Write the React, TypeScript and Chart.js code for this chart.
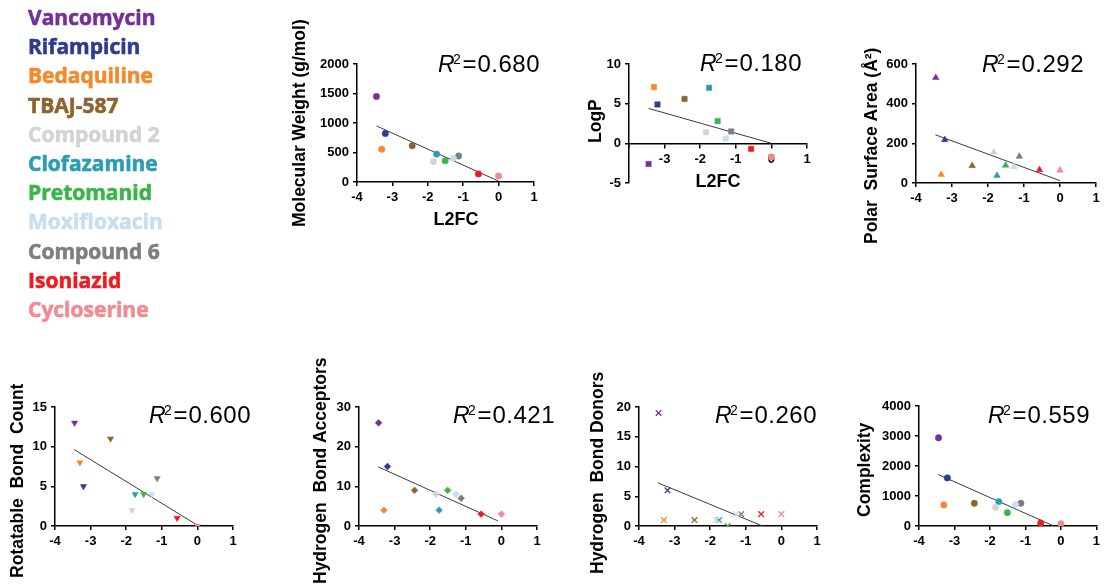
import React, { useEffect, useRef } from 'react';
import { Chart, registerables } from 'chart.js';

Chart.register(...registerables);

const W = 1104;
const H = 588;

// ---------- data ----------
const compounds = ['Vancomycin', 'Rifampicin', 'Bedaquiline', 'TBAJ-587', 'Compound 2', 'Clofazamine', 'Pretomanid', 'Moxifloxacin', 'Compound 6', 'Isoniazid', 'Cycloserine'];
const colors = ['#74309A', '#2E3B93', '#F6882A', '#8D6431', '#D3D3D3', '#2A9DB3', '#3AB54A', '#C7DDF1', '#7E7E7E', '#EC1C24', '#F28A8F'];
const l2fc = [-3.45, -3.2, -3.3, -2.44, -1.84, -1.75, -1.51, -1.28, -1.13, -0.57, 0.0];

const molecularWeight = [1449, 823, 555, 614, 345, 473, 359, 401, 440, 137, 102];
const logP = [-2.6, 4.9, 7.1, 5.6, 1.4, 7.0, 2.8, 0.6, 1.5, -0.7, -1.7];
const polarSurfaceArea = [531, 218, 42, 87, 155, 37, 89, 82, 134, 66, 64];
const rotatableBonds = [13, 5, 8, 11, 2, 4, 4, 4, 6, 1, 0];
const hbAcceptors = [26, 15, 4, 9, 8, 4, 9, 8, 7, 3, 3];
const hbDonors = [19, 6, 1, 1, 1, 1, 0, 2, 2, 2, 2];
const complexity = [2940, 1604, 702, 757, 624, 813, 445, 713, 757, 100, 78];

// regression line end points
const fitMwX = [-3.45, 0];
const fitMwY = [950, 15];
const fitLogPX = [-3.45, 0];
const fitLogPY = [4.4, 0];
const fitPsaX = [-3.46, 0];
const fitPsaY = [243, 12];
const fitRotX = [-3.46, 0];
const fitRotY = [9.63, 0.1];
const fitHbaX = [-3.46, -0.1];
const fitHbaY = [14.9, 1.3];
const fitHbdX = [-3.47, -0.53];
const fitHbdY = [7.26, 0];
const fitCxX = [-3.46, -0.2];
const fitCxY = [1717, 0];

const r2Values = ['0.680', '0.180', '0.292', '0.600', '0.421', '0.260', '0.559'];

// ---------- layout ----------
const SANS = '"Liberation Sans", Arial, Helvetica, sans-serif';
const YW = 50;
const XH = 40;

type Panel = {
  values: number[];
  fitX: number[];
  fitY: number[];
  r2: string;
  pointStyle: string;
  rotation?: number;
  radius: number;
  left: number; right: number; top: number; bottom: number;
  yMin: number; yMax: number; yStep: number;
  zeroAxis?: boolean;
  yTitle: string; yTitleX: number; yTitleBottom: number;
  xTitle?: { x: number; y: number };
  r2X: number; r2Y: number;
};

const panels: Panel[] = [
  { values: molecularWeight, fitX: fitMwX, fitY: fitMwY, r2: r2Values[0], pointStyle: 'circle', radius: 3.2,
    left: 357, right: 534, top: 64, bottom: 182, yMin: 0, yMax: 2000, yStep: 500,
    yTitle: 'Molecular Weight (g/mol)', yTitleX: 300, yTitleBottom: 227, xTitle: { x: 456, y: 225 }, r2X: 438, r2Y: 72 },
  { values: logP, fitX: fitLogPX, fitY: fitLogPY, r2: r2Values[1], pointStyle: 'rect', radius: 3.8,
    left: 629, right: 807, top: 64, bottom: 183, yMin: -5, yMax: 10, yStep: 5, zeroAxis: true,
    yTitle: 'LogP', yTitleX: 596, yTitleBottom: 143, xTitle: { x: 718, y: 187 }, r2X: 700, r2Y: 71 },
  { values: polarSurfaceArea, fitX: fitPsaX, fitY: fitPsaY, r2: r2Values[2], pointStyle: 'triangle', radius: 3.8,
    left: 916, right: 1096, top: 64, bottom: 183, yMin: 0, yMax: 600, yStep: 200,
    yTitle: 'Polar  Surface Area (Å²)', yTitleX: 872, yTitleBottom: 244, r2X: 982, r2Y: 72 },
  { values: rotatableBonds, fitX: fitRotX, fitY: fitRotY, r2: r2Values[3], pointStyle: 'triangle', rotation: 180, radius: 3.6,
    left: 55, right: 233, top: 407, bottom: 526, yMin: 0, yMax: 15, yStep: 5,
    yTitle: 'Rotatable  Bond  Count', yTitleX: 18, yTitleBottom: 578, r2X: 149, r2Y: 423 },
  { values: hbAcceptors, fitX: fitHbaX, fitY: fitHbaY, r2: r2Values[4], pointStyle: 'rectRot', radius: 3.4,
    left: 359, right: 537, top: 407, bottom: 526, yMin: 0, yMax: 30, yStep: 10,
    yTitle: 'Hydrogen  Bond Acceptors', yTitleX: 321, yTitleBottom: 584, r2X: 453, r2Y: 423 },
  { values: hbDonors, fitX: fitHbdX, fitY: fitHbdY, r2: r2Values[5], pointStyle: 'crossRot', radius: 4,
    left: 639, right: 817, top: 407, bottom: 526, yMin: 0, yMax: 20, yStep: 5,
    yTitle: 'Hydrogen  Bond Donors', yTitleX: 598, yTitleBottom: 574, r2X: 715, r2Y: 423 },
  { values: complexity, fitX: fitCxX, fitY: fitCxY, r2: r2Values[6], pointStyle: 'circle', radius: 3.2,
    left: 919, right: 1097, top: 406, bottom: 526, yMin: 0, yMax: 4000, yStep: 1000,
    yTitle: 'Complexity', yTitleX: 865, yTitleBottom: 517, r2X: 988, r2Y: 423 },
];

function drawR2(ctx: CanvasRenderingContext2D, x: number, y: number, value: string) {
  ctx.fillStyle = '#000';
  ctx.textAlign = 'left';
  ctx.textBaseline = 'alphabetic';
  ctx.font = `italic 23px ${SANS}`;
  ctx.fillText('R', x, y);
  ctx.font = `14px ${SANS}`;
  ctx.fillText('2', x + 15, y - 8);
  ctx.font = `24px ${SANS}`;
  ctx.fillText('=', x + 24.5, y);
  (ctx as any).letterSpacing = '0.5px';
  ctx.fillText(value, x + 39.5, y);
  (ctx as any).letterSpacing = '0px';
}

function makeTextPlugin(p: Panel, withLegend: boolean) {
  return {
    id: 'panelText',
    afterDraw(chart: any) {
      const ctx: CanvasRenderingContext2D = chart.ctx;
      ctx.save();
      // y title
      ctx.save();
      ctx.translate(p.yTitleX, p.yTitleBottom);
      ctx.rotate(-Math.PI / 2);
      ctx.font = `bold 17.5px ${SANS}`;
      ctx.fillStyle = '#000';
      ctx.textAlign = 'left';
      ctx.textBaseline = 'middle';
      ctx.fillText(p.yTitle, 0, 0);
      ctx.restore();
      // x title
      if (p.xTitle) {
        ctx.font = `bold 18px ${SANS}`;
        ctx.fillStyle = '#000';
        ctx.textAlign = 'center';
        ctx.textBaseline = 'alphabetic';
        ctx.fillText('L2FC', p.xTitle.x, p.xTitle.y);
      }
      drawR2(ctx, p.r2X, p.r2Y, p.r2);
      if (withLegend) {
        ctx.font = 'bold 21px "Open Sans", "Noto Sans", sans-serif';
        ctx.textAlign = 'left';
        ctx.textBaseline = 'alphabetic';
        ctx.lineWidth = 0.6;
        ctx.lineJoin = 'round';
        compounds.forEach((name, i) => {
          ctx.fillStyle = colors[i];
          ctx.strokeStyle = colors[i];
          ctx.fillText(name, 28, 25 + i * 29.2);
          ctx.strokeText(name, 28, 25 + i * 29.2);
        });
      }
      ctx.restore();
    },
  };
}

function buildConfig(p: Panel, idx: number): any {
  const datasets: any[] = compounds.map((name, i) => ({
    label: name,
    data: [{ x: l2fc[i], y: p.values[i] }],
    pointStyle: p.pointStyle,
    rotation: p.rotation || 0,
    pointRadius: p.radius,
    pointHoverRadius: p.radius,
    backgroundColor: colors[i],
    borderColor: colors[i],
    borderWidth: p.pointStyle === 'crossRot' ? 1.3 : 0.5,
    order: 0,
  }));
  datasets.push({
    label: 'fit',
    data: p.fitX.map((x, j) => ({ x, y: p.fitY[j] })),
    showLine: true,
    borderColor: '#3c3c3c',
    borderWidth: 1,
    pointRadius: 0,
    order: 1,
  });

  const tickFont = { family: SANS, size: 13, weight: 'bold' as const };
  const gridCommon = { display: true, drawOnChartArea: false, drawTicks: true, tickLength: 4, color: '#000', lineWidth: 1.5 };
  const border = { display: true, color: '#000', width: 1.5 };

  const xScale: any = {
    type: 'linear',
    min: -4,
    max: 1,
    afterFit: (s: any) => { s.height = XH; },
    ticks: {
      stepSize: 1,
      color: '#000',
      font: tickFont,
      padding: 4,
      maxRotation: 0,
      callback: (v: number) => (p.zeroAxis && v === -4 ? '' : String(v)),
    },
    grid: gridCommon,
    border,
  };
  if (p.zeroAxis) xScale.position = { y: 0 };
  else xScale.position = 'bottom';

  const yScale: any = {
    type: 'linear',
    position: 'left',
    min: p.yMin,
    max: p.yMax,
    afterFit: (s: any) => { s.width = YW; },
    ticks: { stepSize: p.yStep, color: '#000', font: tickFont, padding: 4, callback: (v: number) => String(v) },
    grid: gridCommon,
    border,
  };

  return {
    type: 'scatter',
    data: { datasets },
    options: {
      responsive: false,
      animation: false,
      events: [],
      layout: {
        padding: {
          left: p.left - YW,
          top: p.top,
          right: W - p.right,
          bottom: p.zeroAxis ? H - p.bottom : H - p.bottom - XH,
        },
      },
      plugins: { legend: { display: false }, tooltip: { enabled: false }, title: { display: false } },
      scales: { x: xScale, y: yScale },
    },
    plugins: [makeTextPlugin(p, idx === 0)],
  };
}

export default function App() {
  const refs = useRef<(HTMLCanvasElement | null)[]>([]);
  useEffect(() => {
    const charts = panels.map((p, i) => new Chart(refs.current[i] as HTMLCanvasElement, buildConfig(p, i)));
    return () => charts.forEach((c) => c.destroy());
  }, []);
  return (
    <div style={{ position: 'absolute', left: 0, top: 0, width: W, height: H, background: '#fff', overflow: 'hidden' }}>
      {panels.map((_, i) => (
        <canvas
          key={i}
          ref={(el) => { refs.current[i] = el; }}
          width={W}
          height={H}
          style={{ position: 'absolute', left: 0, top: 0, width: W, height: H }}
        />
      ))}
    </div>
  );
}
